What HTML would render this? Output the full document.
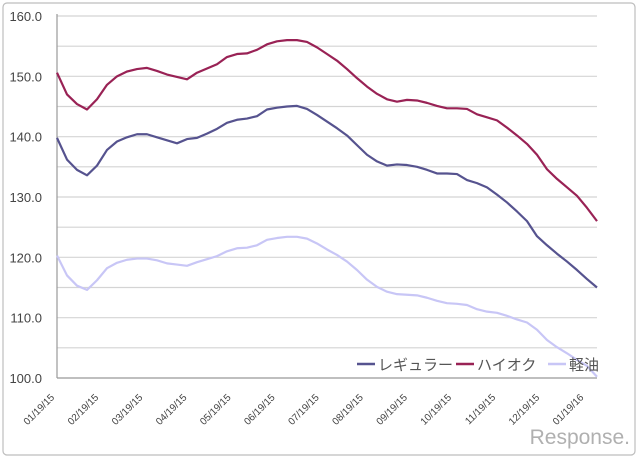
<!DOCTYPE html>
<html><head><meta charset="utf-8"><style>
body{margin:0;background:#fff;}
svg text{font-family:"Liberation Sans","Noto Sans CJK JP",sans-serif;}
</style></head><body>
<svg width="640" height="461" xmlns="http://www.w3.org/2000/svg">
<rect x="3" y="3" width="632" height="452" rx="4" fill="#fff" stroke="#bdbdbd" stroke-width="1.2"/>
<g id="grid"></g><g id="ylab"></g><g id="xlab"></g><g id="lines"></g>
<g>
<line x1="357" y1="364" x2="375" y2="364" stroke="#56538f" stroke-width="2.5"/>
<text x="378" y="370" font-size="15" fill="#555">レギュラー</text>
<line x1="456" y1="364" x2="474" y2="364" stroke="#992255" stroke-width="2.5"/>
<text x="477" y="370" font-size="15" fill="#555">ハイオク</text>
<line x1="548" y1="364" x2="566" y2="364" stroke="#c8c6f6" stroke-width="2.5"/>
<text x="569" y="370" font-size="15" fill="#555">軽油</text>
</g>
<text x="630" y="444" font-size="21" fill="#b0b0b0" text-anchor="end">Response.</text>
<script>
const yTicks=[100,105,110,115,120,125,130,135,140,145,150,155,160];
const yLabels=["100.0","","110.0","","120.0","","130.0","","140.0","","150.0","","160.0"];
const xLabels=["01/19/15","02/19/15","03/19/15","04/19/15","05/19/15","06/19/15","07/19/15","08/19/15","09/19/15","10/19/15","11/19/15","12/19/15","01/19/16"];
const regular=[139.8,136.2,134.5,133.6,135.2,137.8,139.2,139.9,140.4,140.4,139.9,139.4,138.9,139.6,139.8,140.5,141.3,142.3,142.8,143.0,143.4,144.5,144.8,145.0,145.1,144.6,143.6,142.5,141.4,140.2,138.6,137.0,135.9,135.2,135.4,135.3,135.0,134.5,133.9,133.9,133.8,132.8,132.3,131.6,130.4,129.1,127.6,126.0,123.5,122.0,120.6,119.3,117.9,116.4,115.0];
const highOctane=[150.6,147.0,145.4,144.5,146.2,148.6,150.0,150.8,151.2,151.4,150.9,150.3,149.9,149.5,150.6,151.3,152.0,153.2,153.7,153.8,154.4,155.3,155.8,156.0,156.0,155.7,154.8,153.7,152.6,151.2,149.7,148.3,147.1,146.2,145.8,146.1,146.0,145.6,145.1,144.7,144.7,144.6,143.7,143.2,142.7,141.5,140.2,138.8,137.0,134.6,133.0,131.6,130.2,128.2,126.0];
const diesel=[120.3,117.0,115.3,114.6,116.2,118.2,119.1,119.6,119.8,119.8,119.5,119.0,118.8,118.6,119.2,119.7,120.2,121.0,121.5,121.6,122.0,122.9,123.2,123.4,123.4,123.1,122.3,121.3,120.4,119.3,117.9,116.3,115.1,114.3,113.9,113.8,113.7,113.3,112.8,112.4,112.3,112.1,111.4,111.0,110.8,110.3,109.7,109.2,108.0,106.3,105.1,104.1,103.0,102.0,100.2];
const NS='http://www.w3.org/2000/svg';
const X0=57,X1=597,Y0=378,Y1=16;
function yS(v){return Y0-(v-100)/60*(Y0-Y1);}
function xS(i,n){return X0+i/(n-1)*(X1-X0);}
function mk(t,a,p){const e=document.createElementNS(NS,t);for(const k in a)e.setAttribute(k,a[k]);p.appendChild(e);return e;}
const grid=document.getElementById('grid'),yl=document.getElementById('ylab'),xl=document.getElementById('xlab'),ln=document.getElementById('lines');
yTicks.forEach((v,i)=>{
 if(i>0){const g=mk('line',{x1:X0,x2:X1,y1:yS(v),y2:yS(v),stroke:'#d4d4d4','stroke-width':1.2},grid);
 
 }
 if(yLabels[i]){const t=mk('text',{x:42,y:yS(v)+5,'font-size':13,fill:'#444','text-anchor':'end'},yl);t.textContent=yLabels[i];
 
 }
});
const ax=mk('line',{x1:X0,x2:X0,y1:Y1-2,y2:Y0,stroke:'#999','stroke-width':1.2},grid);


const bx=mk('line',{x1:X0,x2:X1,y1:Y0,y2:Y0,stroke:'#999','stroke-width':1.2},grid);


xLabels.forEach((s,i)=>{
 const x=55+i*44.1,y=398;
 const t=mk('text',{x:x,y:y,'font-size':10,fill:'#444','text-anchor':'end',transform:'rotate(-45 '+x+' '+y+')'},xl);t.textContent=s;
 
 
});
[[regular,'#56538f','regular-line'],[highOctane,'#992255','highoctane-line'],[diesel,'#c8c6f6','diesel-line']].forEach(([d,c,nm])=>{
 const p=mk('polyline',{points:d.map((v,i)=>xS(i,d.length)+','+yS(v)).join(' '),fill:'none',stroke:c,'stroke-width':2.2,'stroke-linejoin':'round'},ln);
 
 
});
</script>
</svg>
</body></html>
